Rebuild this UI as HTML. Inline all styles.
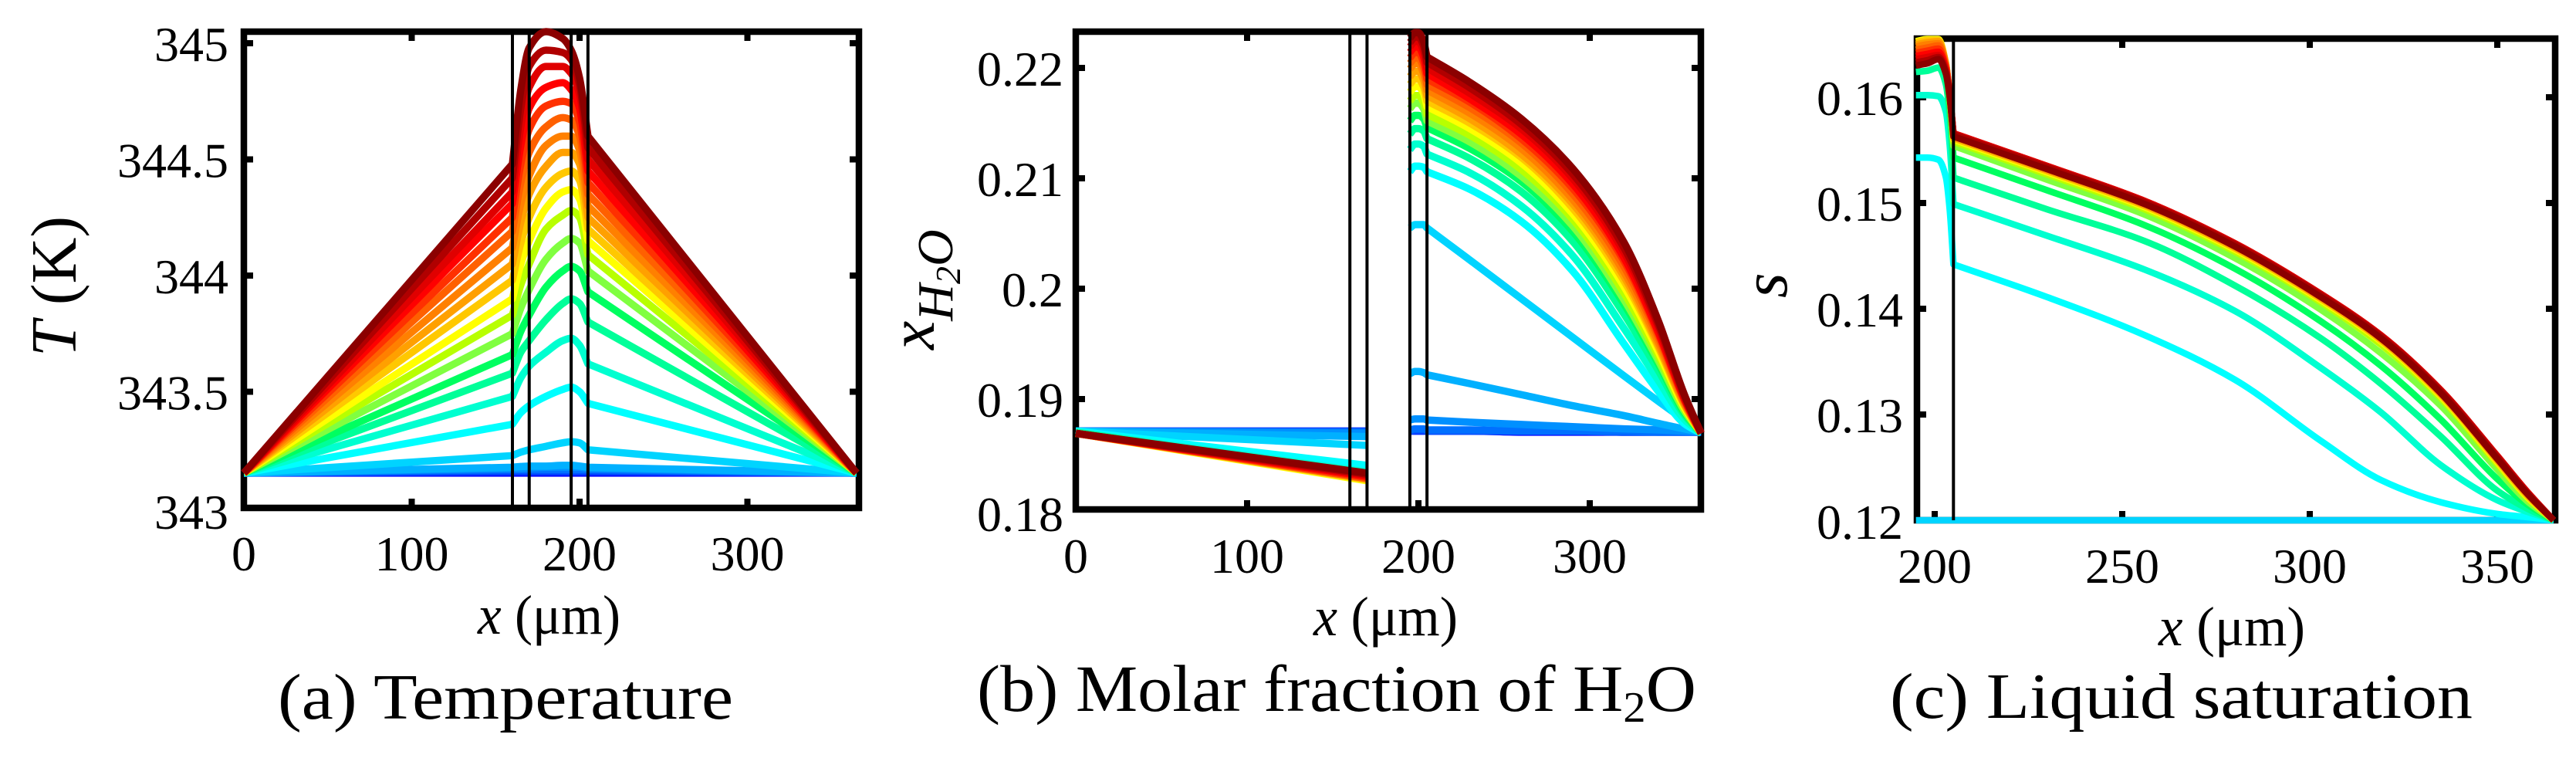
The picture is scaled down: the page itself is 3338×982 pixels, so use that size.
<!DOCTYPE html>
<html lang="en">
<head>
<meta charset="utf-8">
<title>Temperature, molar fraction of H2O and liquid saturation profiles</title>
<style>
html,body{margin:0;padding:0;background:#fff;}
body{width:3338px;height:982px;overflow:hidden;}
svg{display:block;}
text{font-family:"Liberation Serif",serif;fill:#000;}
</style>
</head>
<body>
<svg id="figure" xmlns="http://www.w3.org/2000/svg" width="3338" height="982" viewBox="0 0 3338 982">
  <rect x="0" y="0" width="3338" height="982" fill="#fff"/>
  <g id="panel-a"></g>
  <g id="panel-b"></g>
  <g id="panel-c"></g>

  <text transform="translate(98,462) rotate(-90)" font-size="84" textLength="182" lengthAdjust="spacingAndGlyphs"><tspan font-style="italic">T</tspan> (K)</text>
  <text x="619" y="821" font-size="72" textLength="185" lengthAdjust="spacingAndGlyphs"><tspan font-style="italic">x</tspan> (μm)</text>
  <text x="360" y="931" font-size="84" textLength="590" lengthAdjust="spacingAndGlyphs">(a) Temperature</text>

  <text transform="translate(1210,453) rotate(-90)" font-size="84" font-style="italic">x<tspan font-size="66" dy="24">H</tspan><tspan font-size="46" dy="10">2</tspan><tspan font-size="66" dy="-10">O</tspan></text>
  <text x="1702" y="823" font-size="72" textLength="187" lengthAdjust="spacingAndGlyphs"><tspan font-style="italic">x</tspan> (μm)</text>
  <text transform="translate(1266,921) scale(1.05,1)" font-size="86">(b) Molar fraction of H<tspan font-size="56" dy="14">2</tspan><tspan dy="-14">O</tspan></text>

  <text transform="translate(2315,386) rotate(-90)" font-size="84" font-style="italic">s</text>
  <text x="2797" y="836" font-size="72" textLength="190" lengthAdjust="spacingAndGlyphs"><tspan font-style="italic">x</tspan> (μm)</text>
  <text x="2449" y="930" font-size="84" textLength="755" lengthAdjust="spacingAndGlyphs">(c) Liquid saturation</text>
</svg>

<script>
// ---------- shared ----------
const domainLines = [160, 170, 195, 205];

// ---------- panel (a) temperature ----------
const tempXTicks = [0, 100, 200, 300];
const tempYTicks = [343, 343.5, 344, 344.5, 345];
const tempYLabels = ["343", "343.5", "344", "344.5", "345"];
const tempX = [0, 160, 165, 170, 180, 190, 195, 200, 205, 365];
const tempSeries = [
  [343.15,344.48,344.80,344.98,345.05,345.02,344.97,344.85,344.60,343.15],
  [343.15,344.42,344.72,344.90,344.97,344.96,344.93,344.82,344.55,343.15],
  [343.15,344.36,344.64,344.81,344.90,344.90,344.87,344.78,344.50,343.15],
  [343.15,344.31,344.56,344.72,344.81,344.83,344.80,344.72,344.45,343.15],
  [343.15,344.25,344.48,344.63,344.73,344.75,344.74,344.66,344.40,343.15],
  [343.15,344.19,344.40,344.53,344.64,344.68,344.67,344.60,344.35,343.15],
  [343.15,344.12,344.31,344.43,344.56,344.60,344.60,344.54,344.30,343.15],
  [343.15,344.05,344.23,344.35,344.47,344.53,344.53,344.48,344.25,343.15],
  [343.15,343.98,344.14,344.25,344.38,344.44,344.45,344.41,344.20,343.15],
  [343.15,343.90,344.05,344.15,344.29,344.36,344.37,344.33,344.15,343.15],
  [343.15,343.83,343.96,344.05,344.20,344.26,344.28,344.25,344.09,343.15],
  [343.15,343.75,343.86,343.94,344.07,344.14,344.16,344.14,344.02,343.15],
  [343.15,343.66,343.76,343.83,343.95,344.02,344.04,344.02,343.93,343.15],
  [343.15,343.58,343.67,343.72,343.81,343.88,343.90,343.88,343.80,343.15],
  [343.15,343.48,343.56,343.61,343.67,343.72,343.73,343.70,343.62,343.15],
  [343.15,343.36,343.41,343.44,343.48,343.51,343.52,343.50,343.45,343.15],
  [343.15,343.225,343.24,343.25,343.265,343.28,343.285,343.28,343.25,343.15],
  [343.15,343.175,343.178,343.18,343.18,343.183,343.183,343.18,343.175,343.15],
  [343.15,343.17,343.17,343.172,343.175,343.175,343.175,343.175,343.17,343.15],
  [343.15,343.165,343.165,343.165,343.165,343.165,343.165,343.165,343.165,343.15],
  [343.15,343.16,343.16,343.16,343.16,343.16,343.16,343.16,343.16,343.15],
  [343.15,343.155,343.155,343.155,343.155,343.155,343.155,343.155,343.155,343.15],
  [343.15,343.15,343.15,343.15,343.15,343.15,343.15,343.15,343.15,343.15]
];

// ---------- panel (b) molar fraction of water ----------
const h2oXTicks = [0, 100, 200, 300];
const h2oYTicks = [0.18, 0.19, 0.2, 0.21, 0.22];
const h2oYLabels = ["0.18", "0.19", "0.2", "0.21", "0.22"];
const h2oLeftX = [0, 170];
const h2oLeftSeries = [
  [.1869,.1833],[.1869,.1832],[.1869,.1831],[.1869,.1830],[.1869,.1829],[.1869,.1828],
  [.1869,.1828],[.1869,.18275],[.1869,.1827],[.1869,.1826],[.1869,.1827],[.1869,.1828],
  [.1869,.1829],[.1870,.1831],[.1870,.1834],[.1871,.1840],[.1871,.1858],[.1871,.1866],
  [.1871,.1869],[.1871,.1870],[.1871,.18705],[.1871,.1871],[.1871,.1871]
];
const h2oRightX = [195, 198, 200, 203, 205, 230, 260, 290, 320, 340, 355, 365];
const h2oRightSeries = [
  [.2227,.2232,.2232,.2224,.2210,.2187,.2154,.2109,.2042,.1971,.1905,.1869],
  [.2223,.2228,.2228,.2220,.2205,.2182,.2149,.2104,.2037,.1968,.1904,.1869],
  [.2219,.2224,.2224,.2215,.2200,.2177,.2145,.2100,.2033,.1965,.1902,.1869],
  [.2214,.2219,.2219,.2210,.2195,.2172,.2140,.2095,.2028,.1961,.1901,.1869],
  [.2209,.2214,.2214,.2205,.2190,.2169,.2136,.2091,.2025,.1959,.1900,.1869],
  [.2204,.2209,.2209,.2200,.2185,.2164,.2132,.2086,.2020,.1956,.1899,.1869],
  [.2199,.2204,.2204,.2195,.2180,.2159,.2127,.2081,.2015,.1952,.1897,.1869],
  [.2192,.2197,.2197,.2189,.2175,.2154,.2122,.2077,.2011,.1949,.1896,.1869],
  [.2185,.2190,.2190,.2183,.2170,.2150,.2119,.2073,.2007,.1947,.1895,.1869],
  [.2178,.2183,.2183,.2177,.2165,.2145,.2114,.2068,.2002,.1943,.1893,.1869],
  [.2170,.2175,.2175,.2169,.2158,.2139,.2108,.2063,.1996,.1939,.1892,.1869],
  [.2163,.2168,.2168,.2163,.2152,.2133,.2102,.2057,.1990,.1935,.1890,.1869],
  [.2152,.2157,.2157,.2154,.2146,.2127,.2097,.2052,.1986,.1932,.1888,.1869],
  [.2140,.2145,.2145,.2143,.2136,.2118,.2088,.2043,.1977,.1926,.1886,.1869],
  [.2126,.2131,.2131,.2129,.2122,.2105,.2075,.2030,.1964,.1917,.1882,.1869],
  [.2106,.2111,.2111,.2110,.2106,.2090,.2061,.2016,.1950,.1907,.1878,.1869],
  [.2055,.2058,.2058,.2058,.2055,.2026,.1991,.1956,.1921,.1898,.1881,.1869],
  [.1923,.1925,.1925,.1924,.1922,.1914,.1904,.1894,.1885,.1878,.1873,.1870],
  [.1881,.1882,.1882,.1882,.1881,.1879,.1877,.1875,.1873,.1872,.1871,.1870],
  [.1872,.1873,.1873,.1873,.1872,.1872,.1871,.1871,.1871,.1870,.1870,.1870],
  [.1871,.1872,.1872,.1872,.1871,.1871,.1871,.1871,.1870,.1870,.1870,.1870],
  [.1871,.1871,.1871,.1871,.1871,.1871,.1871,.1871,.1870,.1870,.1870,.1870],
  [.1871,.1871,.1871,.1871,.1871,.1871,.1870,.1870,.1870,.1870,.1870,.1870]
];

// ---------- panel (c) liquid saturation ----------
const satXTicks = [200, 250, 300, 350];
const satYTicks = [0.12, 0.13, 0.14, 0.15, 0.16];
const satYLabels = ["0.12", "0.13", "0.14", "0.15", "0.16"];
const satX = [195, 198, 201, 203, 204, 205, 230, 256, 280, 303, 319, 335, 350, 358, 365];
const satSeries = [
  [.1630,.1632,.1636,.1622,.1600,.1563,.1532,.1499,.1459,.1411,.1372,.1320,.1258,.1225,.1200],
  [.1633,.1635,.1638,.1624,.1601,.1565,.1534,.1501,.1461,.1413,.1374,.1322,.1260,.1226,.1200],
  [.1636,.1638,.1640,.1625,.1602,.1566,.1535,.1502,.1462,.1414,.1375,.1323,.1261,.1227,.1200],
  [.1639,.1641,.1643,.1627,.1603,.1566,.1535,.1502,.1462,.1414,.1375,.1323,.1261,.1227,.1200],
  [.1642,.1644,.1646,.1628,.1603,.1565,.1534,.1501,.1461,.1413,.1374,.1322,.1260,.1226,.1200],
  [.1645,.1647,.1649,.1630,.1603,.1564,.1533,.1500,.1460,.1412,.1373,.1321,.1259,.1225,.1200],
  [.1648,.1650,.1651,.1631,.1603,.1563,.1532,.1499,.1459,.1411,.1372,.1320,.1258,.1225,.1200],
  [.1650,.1652,.1653,.1632,.1602,.1562,.1531,.1498,.1458,.1410,.1371,.1319,.1257,.1224,.1200],
  [.1652,.1654,.1654,.1632,.1602,.1561,.1530,.1497,.1457,.1409,.1370,.1318,.1256,.1223,.1200],
  [.1653,.1655,.1655,.1632,.1601,.1560,.1529,.1496,.1456,.1408,.1369,.1317,.1255,.1222,.1200],
  [.1650,.1652,.1652,.1630,.1600,.1558,.1527,.1494,.1454,.1406,.1366,.1315,.1253,.1221,.1200],
  [.1645,.1647,.1648,.1628,.1598,.1554,.1522,.1489,.1448,.1399,.1358,.1308,.1248,.1218,.1200],
  [.1638,.1639,.1640,.1622,.1592,.1543,.1512,.1479,.1438,.1388,.1346,.1295,.1239,.1215,.1200],
  [.1624,.1625,.1628,.1612,.1582,.1524,.1494,.1464,.1422,.1372,.1329,.1279,.1228,.1211,.1200],
  [.1602,.1602,.1601,.1586,.1555,.1499,.1469,.1437,.1398,.1344,.1302,.1252,.1219,.1208,.1200],
  [.1543,.1543,.1541,.1524,.1494,.1442,.1411,.1375,.1333,.1275,.1238,.1217,.1206,.1203,.1200],
  [.1200,.1200,.1200,.1200,.1200,.1200,.1200,.1200,.1200,.1200,.1200,.1200,.1200,.1200,.1200]
];

// ---------- colours (separate from data): hottest first ----------
const jetColors = [
  "#8b0000","#b00000","#e00000","#ff0000","#ff3000","#ff6000","#ff8000","#ffa000",
  "#ffc800","#ffff00","#b8ff00","#80ff40","#00ff60","#00ff99","#00ffd0","#00ffff",
  "#00d4ff","#00b0ff","#0090ff","#0070ff","#0050ff","#0030ff","#0000ff"
];

// ---------- axis functions ----------
const tempAxisX = u => 316 + 2.175 * u;
const tempAxisY = v => 658 - (v - 343) * 301;
const h2oAxisX = u => 1394 + 2.22 * u;
const h2oAxisY = v => 660 - (v - 0.18) * 14300;
const satAxisX = u => 2507 + 4.86 * (u - 200);
const satAxisY = v => 674 - (v - 0.12) * 13700;

const NS = "http://www.w3.org/2000/svg";
function svgEl(tag, attrs) {
  const el = document.createElementNS(NS, tag);
  for (const k in attrs) el.setAttribute(k, attrs[k]);
  return el;
}

// Monotone cubic through the knots; at knots listed in kinks the curve keeps a sharp corner.
function curvePath(xs, ys, kinks, sx, sy) {
  const px = xs.map(sx), py = ys.map(sy), n = px.length;
  let d = "M" + px[0].toFixed(2) + " " + py[0].toFixed(2);
  const h = [], sec = [];
  for (let i = 0; i < n - 1; i++) { h.push(px[i + 1] - px[i]); sec.push((py[i + 1] - py[i]) / h[i]); }
  const tan = px.map((_, i) => {
    if (i === 0 || i === n - 1) return null;
    if (kinks.indexOf(xs[i]) >= 0) return null;
    if (sec[i - 1] * sec[i] <= 0) return 0;
    const w1 = 2 * h[i] + h[i - 1], w2 = h[i] + 2 * h[i - 1];
    return (w1 + w2) / (w1 / sec[i - 1] + w2 / sec[i]);
  });
  for (let i = 0; i < n - 1; i++) {
    const m0 = tan[i] === null ? sec[i] : tan[i];
    const m1 = tan[i + 1] === null ? sec[i] : tan[i + 1];
    d += "C" + (px[i] + h[i] / 3).toFixed(2) + " " + (py[i] + m0 * h[i] / 3).toFixed(2) + " " +
         (px[i + 1] - h[i] / 3).toFixed(2) + " " + (py[i + 1] - m1 * h[i] / 3).toFixed(2) + " " +
         px[i + 1].toFixed(2) + " " + py[i + 1].toFixed(2);
  }
  return d;
}

function drawFrame(g, box, xTicks, yTicks, yLabels, sx, sy, o) {
  const frame = svgEl("rect", {x: box.l, y: box.t, width: box.r - box.l, height: box.b - box.t, fill: "none", stroke: "#000", "stroke-width": 8.5});
  
  
  g.appendChild(frame);

  xTicks.forEach(u => {
    const x = sx(u);
    const label = svgEl("text", {x: x + (o.xLabelShift || 0), y: o.xLabelY, "font-size": 64, "text-anchor": "middle"});
    
    
    label.textContent = String(u);
    g.appendChild(label);
    if (x <= box.l + 4) return;
    [[box.b, box.b - 12], [box.t, box.t + 12]].forEach(p => {
      const tick = svgEl("line", {x1: x, x2: x, y1: p[0], y2: p[1], stroke: "#000", "stroke-width": 8});
      
      
      g.appendChild(tick);
    });
  });

  yTicks.forEach((v, i) => {
    const y = sy(v);
    const label = svgEl("text", {x: o.yLabelX, y: y + (i === 0 ? o.firstYOffset : 23), "font-size": 64, "text-anchor": "end"});
    
    
    label.textContent = yLabels[i];
    g.appendChild(label);
    if (i === 0) return;
    [[box.l, box.l + 12], [box.r, box.r - 12]].forEach(p => {
      const tick = svgEl("line", {x1: p[0], x2: p[1], y1: y, y2: y, stroke: "#000", "stroke-width": 8});
      
      
      g.appendChild(tick);
    });
  });
}

function drawSeries(g, xs, series, kinks, sx, sy, width, firstColor) {
  for (let i = series.length - 1; i >= 0; i--) {
    const line = svgEl("path", {d: curvePath(xs, series[i], kinks, sx, sy), fill: "none", stroke: jetColors[firstColor + i], "stroke-width": width, "stroke-linejoin": "round", "stroke-linecap": "butt"});
    
    
    g.appendChild(line);
  }
}

function drawDomainLines(g, positions, box, sx) {
  positions.forEach(u => {
    const rule = svgEl("line", {x1: sx(u), x2: sx(u), y1: box.t, y2: box.b, stroke: "#000", "stroke-width": 4});
    
    
    g.appendChild(rule);
  });
}

// panel a
(function () {
  const g = document.getElementById("panel-a");
  const box = {l: 316, r: 1113, t: 41, b: 658};
  drawFrame(g, box, tempXTicks, tempYTicks, tempYLabels, tempAxisX, tempAxisY, {xLabelY: 739, yLabelX: 296, firstYOffset: 27, xLabelShift: 0});
  drawSeries(g, tempX, tempSeries, [160, 205], tempAxisX, tempAxisY, 9.5, 0);
  drawDomainLines(g, domainLines, box, tempAxisX);
})();

// panel b
(function () {
  const g = document.getElementById("panel-b");
  const box = {l: 1394, r: 2204, t: 41, b: 660};
  drawFrame(g, box, h2oXTicks, h2oYTicks, h2oYLabels, h2oAxisX, h2oAxisY, {xLabelY: 742, yLabelX: 1378, firstYOffset: 28, xLabelShift: 0});
  for (let i = h2oRightSeries.length - 1; i >= 0; i--) {
    const left = svgEl("path", {d: curvePath(h2oLeftX, h2oLeftSeries[i], [], h2oAxisX, h2oAxisY), fill: "none", stroke: jetColors[i], "stroke-width": 9.5});
    
    
    g.appendChild(left);
    const right = svgEl("path", {d: curvePath(h2oRightX, h2oRightSeries[i], [205], h2oAxisX, h2oAxisY), fill: "none", stroke: jetColors[i], "stroke-width": 9.5, "stroke-linejoin": "round"});
    
    
    g.appendChild(right);
  }
  drawDomainLines(g, domainLines, box, h2oAxisX);
})();

// panel c
(function () {
  const g = document.getElementById("panel-c");
  const box = {l: 2484, r: 3311, t: 50, b: 674};
  drawFrame(g, box, satXTicks, satYTicks, satYLabels, satAxisX, satAxisY, {xLabelY: 755, yLabelX: 2466, firstYOffset: 24, xLabelShift: 0});
  drawSeries(g, satX, satSeries, [205], satAxisX, satAxisY, 8.5, 0);
  drawDomainLines(g, [205], box, satAxisX);
})();
</script>
</body>
</html>
